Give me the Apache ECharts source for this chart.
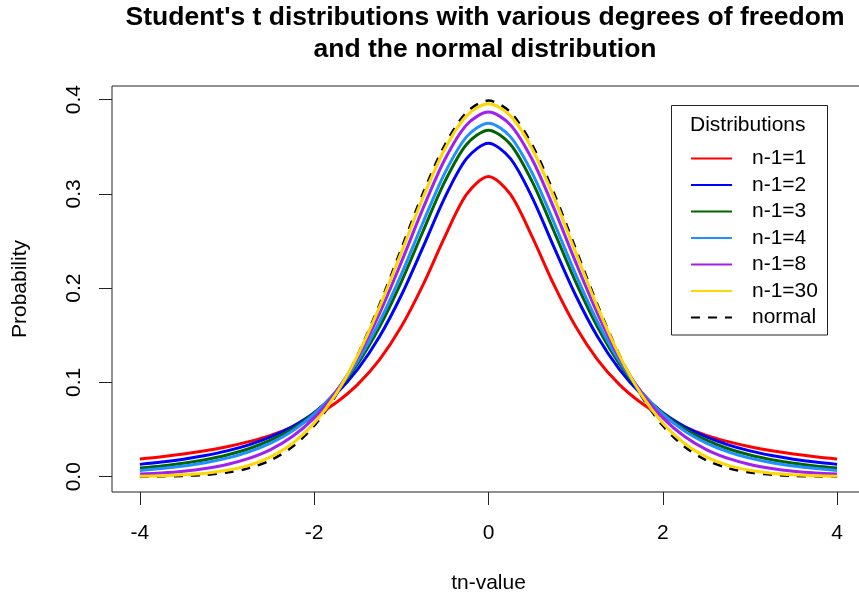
<!DOCTYPE html>
<html>
<head>
<meta charset="utf-8">
<script src="https://cdn.jsdelivr.net/npm/echarts@6/dist/echarts.min.js"></script>
<style>
html,body{margin:0;padding:0;background:#fff;}
#chart{width:859px;height:595px;}
</style>
</head>
<body>
<div id="chart"></div>
<script>
// ---- data ----
var tValues = [-4,-3.75,-3.5,-3.25,-3,-2.75,-2.5,-2.25,-2,-1.75,-1.5,-1.25,-1,-0.75,-0.5,-0.25,0,0.25,0.5,0.75,1,1.25,1.5,1.75,2,2.25,2.5,2.75,3,3.25,3.5,3.75,4];
var df1 = [0.0187,0.0211,0.0240,0.0275,0.0318,0.0372,0.0439,0.0525,0.0637,0.0784,0.0979,0.1242,0.1592,0.2037,0.2546,0.2996,0.3183,0.2996,0.2546,0.2037,0.1592,0.1242,0.0979,0.0784,0.0637,0.0525,0.0439,0.0372,0.0318,0.0275,0.0240,0.0211,0.0187];
var df2 = [0.0131,0.0155,0.0186,0.0225,0.0274,0.0338,0.0422,0.0533,0.0680,0.0878,0.1141,0.1487,0.1925,0.2438,0.2963,0.3376,0.3536,0.3376,0.2963,0.2438,0.1925,0.1487,0.1141,0.0878,0.0680,0.0533,0.0422,0.0338,0.0274,0.0225,0.0186,0.0155,0.0131];
var df3 = [0.0092,0.0114,0.0142,0.0180,0.0230,0.0297,0.0387,0.0509,0.0675,0.0900,0.1200,0.1589,0.2067,0.2606,0.3132,0.3527,0.3676,0.3527,0.3132,0.2606,0.2067,0.1589,0.1200,0.0900,0.0675,0.0509,0.0387,0.0297,0.0230,0.0180,0.0142,0.0114,0.0092];
var df4 = [0.0067,0.0087,0.0113,0.0148,0.0197,0.0264,0.0357,0.0485,0.0663,0.0905,0.1229,0.1644,0.2147,0.2699,0.3223,0.3607,0.3750,0.3607,0.3223,0.2699,0.2147,0.1644,0.1229,0.0905,0.0663,0.0485,0.0357,0.0264,0.0197,0.0148,0.0113,0.0087,0.0067];
var df8 = [0.0028,0.0040,0.0059,0.0088,0.0130,0.0194,0.0288,0.0426,0.0624,0.0899,0.1268,0.1733,0.2276,0.2848,0.3367,0.3734,0.3867,0.3734,0.3367,0.2848,0.2276,0.1733,0.1268,0.0899,0.0624,0.0426,0.0288,0.0194,0.0130,0.0088,0.0059,0.0040,0.0028];
var df30 = [0.0005,0.0010,0.0020,0.0037,0.0068,0.0121,0.0211,0.0353,0.0568,0.0876,0.1290,0.1801,0.2380,0.2966,0.3478,0.3830,0.3956,0.3830,0.3478,0.2966,0.2380,0.1801,0.1290,0.0876,0.0568,0.0353,0.0211,0.0121,0.0068,0.0037,0.0020,0.0010,0.0005];
var normal = [0.0001,0.0004,0.0009,0.0020,0.0044,0.0091,0.0175,0.0317,0.0540,0.0863,0.1295,0.1826,0.2420,0.3011,0.3521,0.3867,0.3989,0.3867,0.3521,0.3011,0.2420,0.1826,0.1295,0.0863,0.0540,0.0317,0.0175,0.0091,0.0044,0.0020,0.0009,0.0004,0.0001];
var xTicks = [-4,-2,0,2,4];
var yTicks = [0,0.1,0.2,0.3,0.4];
var seriesNames = ['n-1=1','n-1=2','n-1=3','n-1=4','n-1=8','n-1=30','normal'];
var seriesColors = ['#FF0000','#0000FF','#006400','#1E90FF','#A020F0','#FFD700','#000000'];
var seriesValues = [df1, df2, df3, df4, df8, df30, normal];

// ---- chart ----
var FONT = "'Liberation Sans', Arial, sans-serif";
function pairs(ys){ return tValues.map(function(x,i){ return [x, ys[i]]; }); }

var series = [];
seriesValues.forEach(function(vals, i){
  var isNormal = seriesNames[i] === 'normal';
  series.push({
    name: seriesNames[i],
    type: 'line',
    data: pairs(vals),
    symbol: 'none',
    smooth: 0.3,
    z: isNormal ? 2 : 3 + i,
    lineStyle: {
      color: seriesColors[i],
      width: isNormal ? 2.5 : 3,
      type: isNormal ? [9, 8] : 'solid'
    },
    itemStyle: { color: seriesColors[i] }
  });
});

var chart = echarts.init(document.getElementById('chart'), null, {renderer: 'canvas'});
chart.setOption({
  animation: false,
  backgroundColor: '#ffffff',
  textStyle: { fontFamily: FONT },
  title: {
    text: "Student's t distributions with various degrees of freedom\nand the normal distribution",
    left: 485, top: 2, textAlign: 'center', padding: 0,
    textStyle: { fontFamily: FONT, fontWeight: 'bold', fontSize: 26.5, lineHeight: 31.5, color: '#000' }
  },
  grid: { left: 112, top: 86, right: -6, bottom: 103, show: true, borderColor: '#222', borderWidth: 1,
    containLabel: false, outerBoundsMode: 'none' },
  xAxis: {
    type: 'value', min: -4.32, max: 4.32,
    name: 'tn-value', nameLocation: 'middle', nameGap: 80.5,
    nameTextStyle: { fontFamily: FONT, fontSize: 21, color: '#000' },
    axisLine: { show: false, onZero: false },
    splitLine: { show: false },
    axisTick: { show: true, inside: false, length: 13, customValues: xTicks, lineStyle: { color: '#222', width: 1 } },
    axisLabel: { customValues: xTicks, margin: 30.5, fontFamily: FONT, fontSize: 21, color: '#000' }
  },
  yAxis: {
    type: 'value', min: -0.0162, max: 0.4144,
    name: 'Probability', nameLocation: 'middle', nameGap: 81, nameRotate: 90,
    nameTextStyle: { fontFamily: FONT, fontSize: 21, color: '#000' },
    axisLine: { show: false, onZero: false },
    splitLine: { show: false },
    axisTick: { show: true, inside: false, length: 13, customValues: yTicks, lineStyle: { color: '#222', width: 1 } },
    axisLabel: { customValues: yTicks, margin: 27, rotate: 90, fontFamily: FONT, fontSize: 21, color: '#000',
      formatter: function(v){ return v.toFixed(1); } }
  },
  legend: {
    data: seriesNames,
    orient: 'vertical',
    left: 690, top: 148,
    padding: 0,
    z: 20,
    itemWidth: 41, itemHeight: 14, itemGap: 5.5,
    itemStyle: { opacity: 0 },
    textStyle: { fontFamily: FONT, fontSize: 21, color: '#000', lineHeight: 14, padding: [0,0,0,15] },
    selectedMode: false
  },
  graphic: [
    { type: 'rect', shape: { x: 671.5, y: 105.5, width: 156, height: 229.5 },
      style: { fill: '#fff', stroke: '#222', lineWidth: 1 }, z: 15, silent: true },
    { type: 'text', x: 690, y: 125, z: 16,
      style: { text: 'Distributions', fontFamily: FONT, fontSize: 21, fill: '#000', verticalAlign: 'middle', align: 'left' } }
  ],
  series: series
});
</script>
</body>
</html>
